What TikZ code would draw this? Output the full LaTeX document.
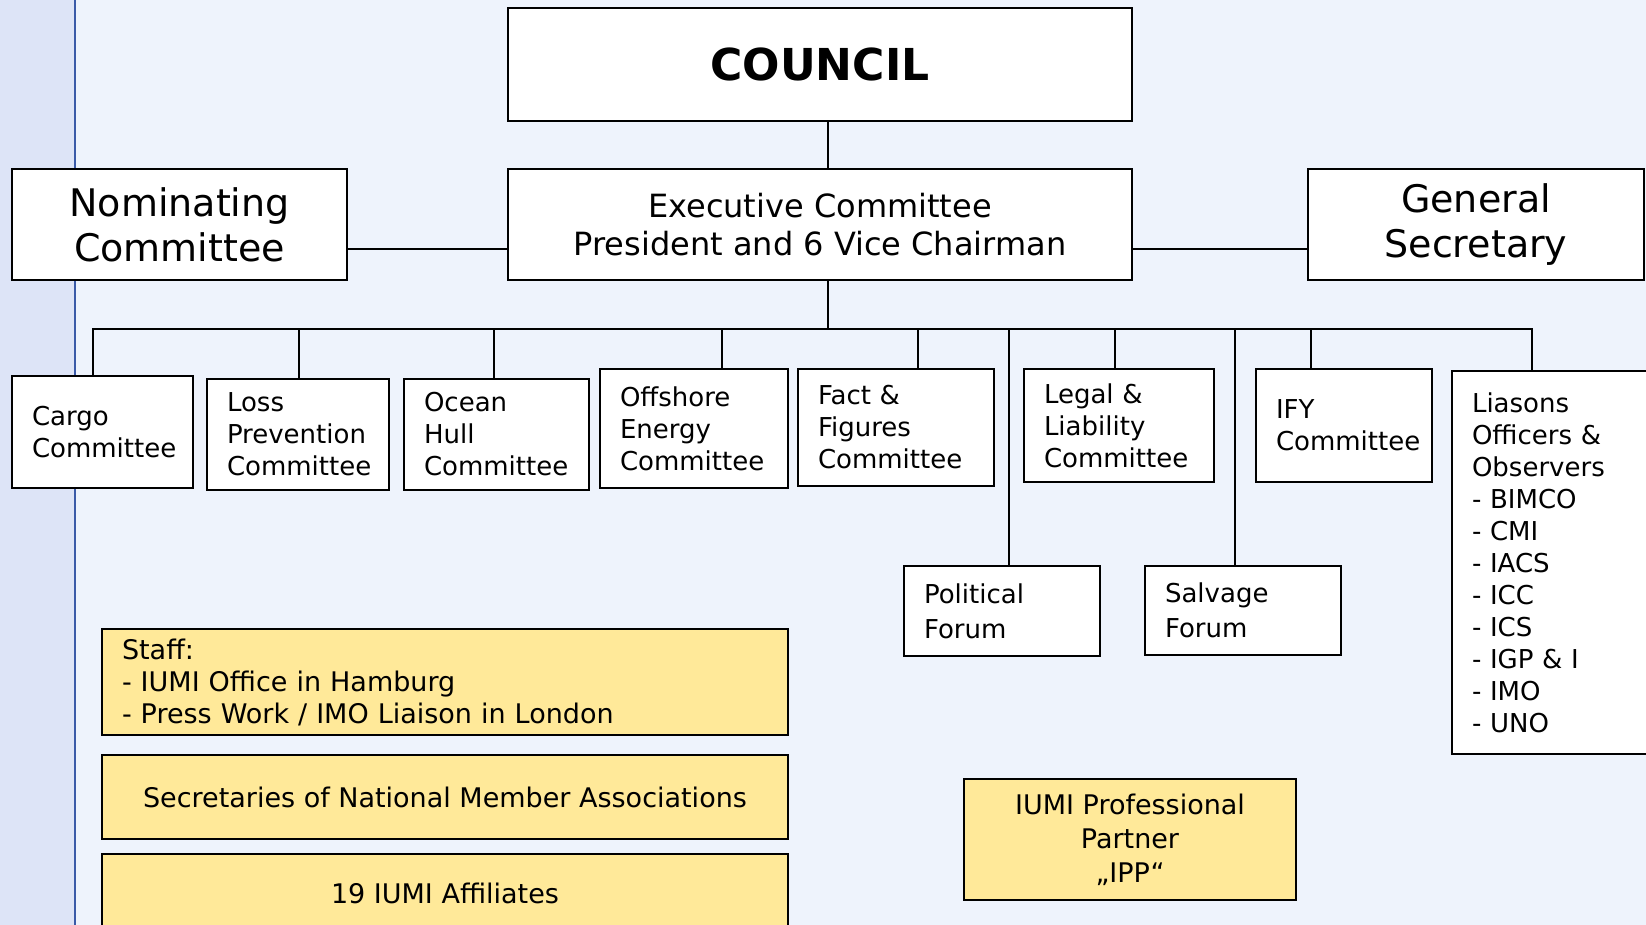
\documentclass[tikz,border=0pt]{standalone}
\usepackage{fontspec}
\setmainfont{DejaVu Sans}
\definecolor{pagebg}{HTML}{EEF3FC}
\definecolor{stripbg}{HTML}{DDE4F7}
\definecolor{stripline}{HTML}{3A5AA8}
\definecolor{staffyellow}{HTML}{FFE999}
\newcommand{\unitfont}{\fontsize{26}{32}\selectfont}
\newcommand{\stafffont}{\fontsize{27}{32}\selectfont}

\begin{document}
\begin{tikzpicture}[x=1pt, y=-1pt,
  box/.style={draw, fill=white, line width=2pt, inner sep=0pt},
  unit/.style={box, inner xsep=20pt, align=left, font=\unitfont},
  staff/.style={draw, fill=staffyellow, line width=2pt, inner sep=0pt, font=\stafffont},
  link/.style={line width=2pt, line cap=rect}]
	% Page and left strip
	\useasboundingbox (0,0) rectangle (1646,925);
	\fill[pagebg] (0,0) rectangle (1646,925);
	\fill[stripbg] (0,0) rectangle (75,925);
	\draw[stripline, line width=1.5pt] (75,0) -- (75,925);
	% Top level
	\node[box, minimum width=624pt, minimum height=113pt, font=\fontsize{44}{52}\selectfont\bfseries] (council) at (820,64.5) {COUNCIL};
	\node[box, minimum width=624pt, minimum height=111pt, align=center, font=\fontsize{32}{38}\selectfont] (exec) at (820,224.5) {Executive Committee\\President and 6 Vice Chairman};
	\node[box, minimum width=335pt, minimum height=111pt, align=center, font=\fontsize{38}{45}\selectfont] (nom) at (179.5,225) {Nominating\\Committee};
	\node[box, minimum width=336pt, minimum height=111pt, align=center, font=\fontsize{38}{45}\selectfont] (gensec) at (1476,225) {General\\Secretary};
	% Committees
	\node[unit, text width=141pt, minimum height=112pt] (cargo) at (102.5,432) {Cargo\\Committee};
	\node[unit, text width=142pt, minimum height=111pt] (loss) at (298,434.5) {Loss\\Prevention\\Committee};
	\node[unit, text width=145pt, minimum height=111pt] (ocean) at (496.5,434.5) {Ocean\\Hull\\Committee};
	\node[unit, text width=148pt, minimum height=119pt] (offshore) at (694,428.5) {Offshore\\Energy\\Committee};
	\node[unit, text width=156pt, minimum height=117pt] (fact) at (896,427.5) {Fact \&\\Figures\\Committee};
	\node[unit, text width=150pt, minimum height=113pt] (legal) at (1119,425.5) {Legal \&\\Liability\\Committee};
	\node[unit, text width=136pt, minimum height=113pt] (ify) at (1344,425.5) {IFY\\Committee};
	\node[unit, text width=178pt, minimum height=383pt] (liaison) at (1561,562.5) {Liasons\\Officers \&\\Observers\\- BIMCO\\- CMI\\- IACS\\- ICC\\- ICS\\- IGP \& I\\- IMO\\- UNO};
	% Forums
	\node[unit, text width=156pt, minimum height=90pt, font=\fontsize{26}{35}\selectfont] (political) at (1002,611) {Political\\Forum};
	\node[unit, text width=156pt, minimum height=89pt, font=\fontsize{26}{35}\selectfont] (salvage) at (1243,610.5) {Salvage\\Forum};
	% Staff and members
	\node[staff, text width=646pt, inner xsep=20pt, align=left, minimum height=106pt] (staffbox) at (445,682) {Staff:\\- IUMI Office in Hamburg\\- Press Work / IMO Liaison in London};
	\node[staff, minimum width=686pt, minimum height=84pt] (secretaries) at (445,797) {Secretaries of National Member Associations};
	\node[staff, minimum width=686pt, minimum height=78pt] (affiliates) at (445,893) {19 IUMI Affiliates};
	\node[staff, minimum width=332pt, minimum height=121pt, align=center, font=\fontsize{27}{34}\selectfont] (ipp) at (1130,839.5) {IUMI Professional\\Partner\\„IPP“};
	% Connectors
	\coordinate (sidelevel) at (0,249);
	\draw[link] ([xshift=8pt]council.south) -- ([xshift=8pt]exec.north);
	\draw[link] (nom.east |- sidelevel) -- (exec.west |- sidelevel);
	\draw[link] (exec.east |- sidelevel) -- (gensec.west |- sidelevel);
	\foreach \n/\x in {cargo/93, loss/299, ocean/494, offshore/722, fact/918, political/1009, legal/1115, salvage/1235, ify/1311, liaison/1532}{
		\coordinate (tap\n) at (\x,329);
		\draw[link] (tap\n) -- (tap\n |- \n.north);
	}
	\draw[link] (tapcargo) -- (tapliaison);
	\coordinate (execfoot) at ([xshift=8pt]exec.south);
	\draw[link] (execfoot) -- (execfoot |- tapcargo);
\end{tikzpicture}
\end{document}
